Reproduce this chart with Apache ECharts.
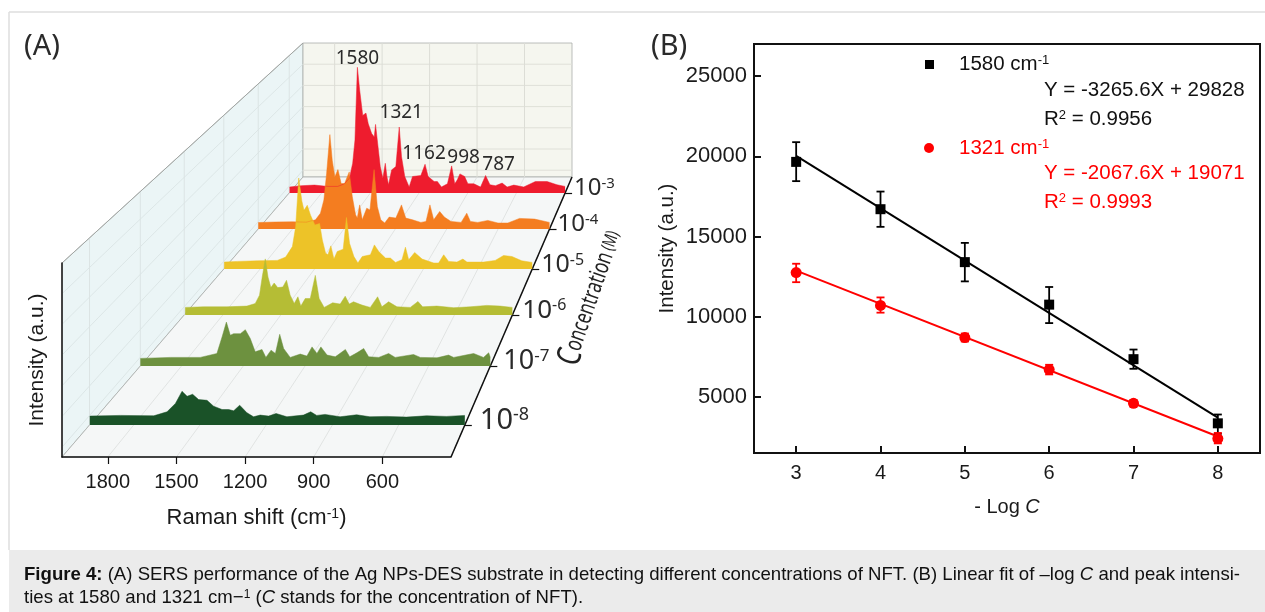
<!DOCTYPE html>
<html>
<head>
<meta charset="utf-8">
<title>Figure 4</title>
<script src="https://cdn.jsdelivr.net/npm/echarts@6/dist/echarts.min.js"></script>
<style>
  html, body { margin: 0; padding: 0; background: #fff; }
  #main { width: 1265px; height: 612px; }
</style>
</head>
<body>
<div id="main"></div>
<script>
// ---- (A) spectra, back row first
const concentrations = ['-3', '-4', '-5', '-6', '-7', '-8'];
const peakNames = ['1580', '1321', '1162', '998', '787'];
const peakShifts = [1580, 1322, 1163, 999, 790];
const peakValues = [12570, 6600, 2870, 2710, 1750];

const shift3 = [1998, 1926, 1844, 1762, 1701, 1660, 1629, 1609, 1595, 1580, 1566, 1547, 1527, 1513, 1492, 1476, 1468, 1455, 1439, 1423, 1408, 1398, 1388, 1369, 1343, 1322, 1308, 1288, 1261, 1240, 1189, 1163, 1144, 1107, 1087, 1062, 1025, 999, 980, 964, 948, 919, 899, 862, 821, 790, 763, 729, 688, 657, 616, 555, 483, 411, 350, 300];
const int3 = [600, 730, 790, 660, 660, 920, 1480, 2970, 5280, 12570, 10300, 7760, 7990, 6930, 5940, 5610, 6860, 4950, 2640, 1480, 2970, 1650, 820, 2310, 2640, 6600, 3630, 1650, 600, 1650, 1750, 2870, 1650, 1150, 1150, 600, 920, 2710, 920, 1320, 1910, 1650, 920, 920, 600, 1750, 820, 730, 990, 600, 790, 600, 1150, 1150, 820, 660];

const shift4 = [2000, 1900, 1800, 1720, 1666, 1637, 1617, 1601, 1582, 1568, 1553, 1535, 1516, 1496, 1469, 1451, 1432, 1422, 1408, 1393, 1367, 1348, 1324, 1305, 1285, 1262, 1236, 1197, 1164, 1139, 1100, 1051, 1021, 998, 976, 941, 914, 875, 816, 783, 762, 719, 660, 601, 543, 475, 387, 300];
const int4 = [650, 700, 720, 680, 920, 1580, 2900, 5540, 9440, 6860, 5210, 5940, 4550, 4550, 5710, 3230, 1420, 1090, 2410, 920, 2080, 1910, 5940, 2240, 920, 600, 1190, 1090, 2410, 1090, 920, 660, 760, 2410, 920, 1750, 1190, 760, 660, 1580, 760, 660, 860, 600, 600, 1060, 990, 660];

const shift5 = [1998, 1925, 1815, 1705, 1659, 1622, 1604, 1587, 1570, 1558, 1540, 1522, 1498, 1472, 1457, 1439, 1426, 1410, 1393, 1375, 1342, 1324, 1307, 1283, 1261, 1237, 1192, 1170, 1146, 1109, 1082, 1054, 1018, 999, 981, 948, 907, 843, 816, 788, 761, 715, 682, 660, 568, 504, 458, 412, 358, 300];
const int5 = [690, 760, 820, 860, 1190, 2240, 4220, 9100, 6800, 5870, 6370, 5380, 4390, 4550, 2900, 1580, 1420, 2310, 990, 1750, 1980, 5150, 2570, 1250, 600, 1250, 1420, 2410, 1750, 1090, 1090, 660, 920, 2180, 920, 1650, 990, 600, 600, 1420, 760, 690, 990, 690, 690, 860, 1350, 1250, 820, 660];

const shift6 = [1995, 1900, 1779, 1675, 1632, 1610, 1596, 1580, 1566, 1551, 1534, 1516, 1489, 1470, 1451, 1430, 1411, 1396, 1373, 1347, 1321, 1301, 1275, 1231, 1192, 1166, 1145, 1123, 1079, 1036, 998, 976, 941, 898, 829, 789, 765, 691, 604, 518, 432, 363, 300];
const int6 = [760, 820, 820, 890, 1150, 1980, 3800, 5610, 3800, 2740, 3200, 2740, 2800, 3470, 1980, 1150, 1820, 890, 1650, 1650, 3960, 1650, 760, 1220, 1090, 1880, 1090, 1320, 990, 760, 1820, 820, 1320, 820, 760, 1350, 820, 890, 730, 820, 960, 890, 760];

const shift7 = [2000, 1854, 1709, 1628, 1603, 1582, 1563, 1547, 1514, 1490, 1466, 1442, 1409, 1390, 1365, 1344, 1323, 1304, 1272, 1223, 1191, 1166, 1142, 1123, 1093, 1053, 1004, 983, 948, 915, 891, 842, 794, 762, 673, 640, 559, 503, 478, 413, 381, 333, 308, 300];
const int7 = [760, 860, 860, 1250, 2900, 4390, 3070, 3230, 3230, 3630, 2740, 1420, 1650, 860, 1580, 1250, 3170, 1750, 860, 1190, 990, 1910, 1250, 1910, 1090, 920, 1650, 920, 1320, 1750, 920, 860, 1250, 860, 1150, 860, 820, 1090, 860, 1120, 1250, 860, 1320, 860];

const shift8 = [1999, 1860, 1709, 1649, 1611, 1581, 1558, 1533, 1506, 1468, 1438, 1400, 1370, 1347, 1320, 1287, 1257, 1227, 1189, 1155, 1106, 1031, 998, 971, 933, 865, 790, 730, 654, 564, 473, 383, 300];
const int8 = [890, 960, 920, 1320, 2150, 3370, 2870, 3070, 2540, 2470, 1880, 1550, 1550, 1420, 1980, 1220, 825, 990, 890, 1150, 825, 990, 1320, 960, 1060, 825, 1020, 825, 860, 790, 920, 860, 960];

const ramanTicks = [600, 900, 1200, 1500, 1800];

// ---- (B) calibration points
const logC = [3, 4, 5, 6, 7, 8];
const y1580 = [19650, 16700, 13400, 10750, 7350, 3350];
const y1580Low = [18450, 15600, 12200, 9600, 6750, 2700];
const y1580High = [20880, 17800, 14600, 11850, 7950, 3900];
const y1321 = [12750, 10700, 8700, 6700, 4600, 2400];
const y1321Low = [12150, 10250, 8450, 6400, 4400, 2100];
const y1321High = [13300, 11200, 8950, 7000, 4800, 2750];
const fitX = [3, 8];
const fit1580 = [20031, 3703];
const fit1321 = [12868, 2530];
const intensityTicks = [5000, 10000, 15000, 20000, 25000];

// ---- layout of the pseudo 3D box
const rowBase = [193, 229, 269, 315, 366, 425];
const rowColor = ['#ee1c2e', '#f47d20', '#edc328', '#b5bd35', '#6d913f', '#1a5228'];
const rowFont = [24, 24, 25, 26, 27, 29];
const rowMargin = [9, 8, 9, 10, 13, 15];
const rowShift = [shift3, shift4, shift5, shift6, shift7, shift8];
const rowInt = [int3, int4, int5, int6, int7, int8];
const peakOffset = [[0, 6], [2, 0], [-1, 4], [12, 6], [13, 4]];

const floorFront = 457, floorBack = 177, wallTop = 43, wallFrontTop = 263;
const frontLeft = 62, frontRight = 451, backLeft = 303, backRight = 572;
const shiftMin = 300, shiftMax = 2000;
const latin = 'Liberation Sans';
const myriad = 'Noto Sans';

function leftAt(y) {
    return frontLeft + (floorFront - y) / (floorFront - floorBack) * (backLeft - frontLeft);
}
function rightAt(y) {
    return frontRight + (floorFront - y) / (floorFront - floorBack) * (backRight - frontRight);
}
function shiftX(shift, left, right) {
    return right - (shift - shiftMin) / (shiftMax - shiftMin) * (right - left);
}
function zip(a, b) {
    return a.map((v, i) => [v, b[i]]);
}
function seg(x1, y1, x2, y2, color, width, z) {
    return {
        type: 'line', silent: true, z: z === undefined ? -5 : z,
        shape: { x1: x1, y1: y1, x2: x2, y2: y2 },
        style: { stroke: color, lineWidth: width }
    };
}
function poly(points, fill) {
    return {
        type: 'polygon', silent: true, z: -10,
        shape: { points: points },
        style: { fill: fill, stroke: '#a9adab', lineWidth: 0.8 }
    };
}
function txt(x, y, text, size, color, family, extra) {
    return Object.assign({
        type: 'text', x: x, y: y, silent: true, z: 10,
        style: {
            text: text, fontSize: size, fill: color, fontFamily: family,
            verticalAlign: 'middle', align: 'left',
            rich: {
                sup: { fontSize: Math.round(size * 0.62), fontFamily: family, fill: color, verticalAlign: 'top' },
                b: { fontSize: size, fontFamily: family, fill: color, fontWeight: 'bold' },
                i: { fontSize: size, fontFamily: family, fill: color, fontStyle: 'italic' }
            }
        }
    }, extra || {});
}
function plainNumber(v) {
    return String(v);
}

// walls, floor and their faint grid
let graphics = [
    poly([[frontLeft, wallFrontTop], [backLeft, wallTop], [backLeft, floorBack], [frontLeft, floorFront]], '#ebf5f6'),
    poly([[backLeft, wallTop], [backRight, wallTop], [backRight, floorBack], [backLeft, floorBack]], '#f5f6ef'),
    poly([[frontLeft, floorFront], [frontRight, floorFront], [backRight, floorBack], [backLeft, floorBack]], '#f5f7f7'),
];
for (let k = 1; k <= 6; k++) {
    // 等高線: 左牆 + 後牆
    let fy = wallFrontTop + k * 30.7, by = wallTop + k * 21.2;
    graphics.push(seg(frontLeft, fy, backLeft, by, '#d5dfdf', 0.7));
    graphics.push(seg(backLeft, by, backRight, by, '#dfe0d8', 1));
}
ramanTicks.forEach(function (t) {
    let fx = shiftX(t, frontLeft, frontRight), bx = shiftX(t, backLeft, backRight);
    graphics.push(seg(fx, floorFront, bx, floorBack, '#d8dbda', 0.7));
    graphics.push(seg(bx, floorBack, bx, wallTop, '#dcddd6', 1));
});
rowBase.forEach(function (y) {
    // the wall vertical sits at each row's back end
    let x = leftAt(y);
    let top = wallFrontTop + (x - frontLeft) / (backLeft - frontLeft) * (wallTop - wallFrontTop);
    graphics.push(seg(x, y, x, top, '#dbe4e4', 1));
});
graphics.push(seg(frontRight, floorFront, backRight, floorBack, '#111', 1.5, 1));
graphics.push(seg(frontLeft, wallFrontTop, backLeft, wallTop, '#9a9e9c', 0.8));

// frame lines of the figure and caption band
graphics.push(seg(9, 12, 1265, 12, '#dedede', 1.5));
graphics.push(seg(9, 12, 9, 550, '#dedede', 1.5));
graphics.push({
    type: 'rect', silent: true, z: -20,
    shape: { x: 9, y: 550, width: 1256, height: 62 },
    style: { fill: '#ebebeb' }
});
graphics.push(txt(24, 575, '{b|Figure 4:} (A) SERS performance of the Ag NPs-DES substrate in detecting different concentrations of NFT. (B) Linear fit of \u2013log {i|C} and peak intensi-', 18.6, '#111', latin));
graphics.push(txt(24, 598, 'ties at 1580 and 1321 cm\u2212{sup|1} ({i|C} stands for the concentration of NFT).', 18.6, '#111', latin));

graphics.push(txt(24, 47, '(A)', 29, '#2a2a2a', myriad));
graphics.push(txt(651, 47, '(B)', 29, '#2a2a2a', myriad));
graphics.push(txt(591, 298, '', 20, '#222', myriad, {
    rotation: 71 * Math.PI / 180,
    scaleY: 1.4,
    style: {
        text: '{c|C}{m|oncentration} {s|(M)}', fontFamily: myriad, fill: '#222',
        align: 'center', verticalAlign: 'middle',
        rich: {
            c: { fontSize: 24, fontFamily: myriad, fill: '#222' },
            m: { fontSize: 17, fontFamily: myriad, fill: '#222' },
            s: { fontSize: 13, fontFamily: myriad, fill: '#222' }
        }
    }
}));

// legend and fit equations of (B)
graphics.push({ type: 'rect', silent: true, z: 10, shape: { x: 925, y: 60, width: 9, height: 9 }, style: { fill: '#000' } });
graphics.push({ type: 'circle', silent: true, z: 10, shape: { cx: 929, cy: 148, r: 5 }, style: { fill: '#ff0000' } });
graphics.push(txt(959, 64, '1580 cm{sup|-1}', 20.5, '#111', latin));
graphics.push(txt(1044, 90, 'Y = -3265.6X + 29828', 20.5, '#111', latin));
graphics.push(txt(1044, 119, 'R{sup|2} = 0.9956', 20.5, '#111', latin));
graphics.push(txt(959, 148, '1321 cm{sup|-1}', 20.5, '#ff0000', latin));
graphics.push(txt(1044, 173, 'Y = -2067.6X + 19071', 20.5, '#ff0000', latin));
graphics.push(txt(1044, 202, 'R{sup|2} = 0.9993', 20.5, '#ff0000', latin));

// grids: one per spectrum, the frame of (A), and (B)
let grids = [], xAxes = [], yAxes = [], series = [];
rowBase.forEach(function (base, i) {
    let left = leftAt(base), right = rightAt(base), h = 140;
    grids.push({ left: left, width: right - left, top: base - h, height: h });
    xAxes.push({ type: 'value', gridIndex: i, min: shiftMin, max: shiftMax, inverse: true, show: false });
    yAxes.push({
        type: 'value', gridIndex: i, min: 0, max: 14000, position: 'right',
        axisLine: { show: false }, splitLine: { show: false },
        axisTick: { show: true, length: 7, customValues: [0], lineStyle: { color: '#111', width: 1.2 } },
        axisLabel: {
            show: true, customValues: [0], margin: rowMargin[i], padding: [0, 0, 9, 0],
            formatter: function () { return '10{sup|' + concentrations[i] + '}'; },
            fontFamily: myriad, fontSize: rowFont[i], color: '#2a2a2a',
            rich: { sup: { fontFamily: myriad, fontSize: Math.round(rowFont[i] * 0.62), color: '#2a2a2a', verticalAlign: 'top' } }
        }
    });
    let s = {
        type: 'line', xAxisIndex: i, yAxisIndex: i, data: zip(rowShift[i], rowInt[i]),
        symbol: 'none', silent: true, z: 3,
        lineStyle: { color: rowColor[i], width: 0.5 },
        areaStyle: { color: rowColor[i], opacity: 1 }
    };
    if (i === 0) {
        s.markPoint = {
            symbol: 'circle', symbolSize: 0, silent: true,
            data: peakNames.map((n, k) => ({
                name: n, coord: [peakShifts[k], peakValues[k]],
                label: { offset: peakOffset[k] }
            })),
            label: { show: true, position: 'top', formatter: '{b}', fontFamily: myriad, fontSize: 19, color: '#2a2a2a' }
        };
    }
    series.push(s);
});

const frameIndex = rowBase.length;
grids.push({ left: frontLeft, width: frontRight - frontLeft, top: wallFrontTop, height: floorFront - wallFrontTop });
xAxes.push({
    type: 'value', gridIndex: frameIndex, min: shiftMin, max: shiftMax, inverse: true,
    name: 'Raman shift (cm{sup|-1})', nameLocation: 'middle', nameGap: 50,
    nameTextStyle: {
        fontFamily: latin, fontSize: 22, color: '#1a1a1a',
        rich: { sup: { fontFamily: latin, fontSize: 14, color: '#1a1a1a', verticalAlign: 'top' } }
    },
    axisLine: { show: true, lineStyle: { color: '#111', width: 1.5 } },
    axisTick: { show: true, length: 7, customValues: ramanTicks, lineStyle: { color: '#111', width: 1.2 } },
    axisLabel: { customValues: ramanTicks, margin: 15, fontFamily: latin, fontSize: 20, color: '#1a1a1a', formatter: plainNumber },
    splitLine: { show: false }
});
yAxes.push({
    type: 'value', gridIndex: frameIndex, min: 0, max: 1, position: 'left',
    name: 'Intensity (a.u.)', nameLocation: 'middle', nameGap: 14, nameRotate: 90,
    nameTextStyle: { fontFamily: latin, fontSize: 21, color: '#1a1a1a' },
    axisLine: { show: true, onZero: false, lineStyle: { color: '#111', width: 1.5 } },
    axisTick: { show: false }, axisLabel: { show: false }, splitLine: { show: false }
});

const bIndex = frameIndex + 1;
grids.push({ left: 754, top: 44, width: 506, height: 409, show: true, borderColor: '#111', borderWidth: 2, backgroundColor: 'transparent' });
xAxes.push({
    type: 'value', gridIndex: bIndex, min: 2.5, max: 8.5,
    name: '- Log {i|C}', nameLocation: 'middle', nameGap: 44,
    nameTextStyle: {
        fontFamily: latin, fontSize: 20, color: '#1a1a1a',
        rich: { i: { fontFamily: latin, fontSize: 20, fontStyle: 'italic', color: '#1a1a1a' } }
    },
    axisLine: { show: true, lineStyle: { color: '#111', width: 2 } },
    axisTick: { show: true, inside: true, length: 7, customValues: logC, lineStyle: { color: '#111', width: 2 } },
    axisLabel: { customValues: logC, margin: 10, fontFamily: latin, fontSize: 20, color: '#1a1a1a' },
    splitLine: { show: false }
});
yAxes.push({
    type: 'value', gridIndex: bIndex, min: 1500, max: 27000,
    name: 'Intensity (a.u.)', nameLocation: 'middle', nameGap: 76, nameRotate: 90,
    nameTextStyle: { fontFamily: latin, fontSize: 20.5, color: '#1a1a1a' },
    axisLine: { show: true, onZero: false, lineStyle: { color: '#111', width: 2 } },
    axisTick: { show: true, inside: true, length: 7, customValues: intensityTicks, lineStyle: { color: '#111', width: 2 } },
    axisLabel: { customValues: intensityTicks, margin: 7, fontFamily: latin, fontSize: 22, color: '#1a1a1a', formatter: plainNumber },
    splitLine: { show: false }
});

function errorItem(color) {
    return function (params, api) {
        let low = api.coord([api.value(0), api.value(1)]);
        let high = api.coord([api.value(0), api.value(2)]);
        let cap = 4;
        let style = { stroke: color, lineWidth: 1.8 };
        return {
            type: 'group',
            children: [
                { type: 'line', shape: { x1: low[0], y1: low[1], x2: high[0], y2: high[1] }, style: style },
                { type: 'line', shape: { x1: low[0] - cap, y1: low[1], x2: low[0] + cap, y2: low[1] }, style: style },
                { type: 'line', shape: { x1: high[0] - cap, y1: high[1], x2: high[0] + cap, y2: high[1] }, style: style }
            ]
        };
    };
}
function addCalibration(color, fit, low, high, values, symbol, size) {
    series.push({
        type: 'line', xAxisIndex: bIndex, yAxisIndex: bIndex, data: zip(fitX, fit),
        symbol: 'none', silent: true, lineStyle: { color: color, width: 2 }, z: 3
    });
    series.push({
        type: 'custom', xAxisIndex: bIndex, yAxisIndex: bIndex, silent: true, z: 4,
        data: logC.map((x, i) => [x, low[i], high[i]]),
        encode: { x: 0, y: [1, 2] }, renderItem: errorItem(color)
    });
    series.push({
        type: 'scatter', xAxisIndex: bIndex, yAxisIndex: bIndex, silent: true, z: 5,
        data: zip(logC, values), symbol: symbol, symbolSize: size,
        itemStyle: { color: color, opacity: 1 }
    });
}
addCalibration('#000000', fit1580, y1580Low, y1580High, y1580, 'rect', 10);
addCalibration('#ff0000', fit1321, y1321Low, y1321High, y1321, 'circle', 11);

let chart = echarts.init(document.getElementById('main'), null, { renderer: 'canvas' });
chart.setOption({
    animation: false,
    backgroundColor: '#ffffff',
    tooltip: { show: false },
    grid: grids,
    xAxis: xAxes,
    yAxis: yAxes,
    series: series,
    graphic: { elements: graphics }
});
</script>
</body>
</html>
